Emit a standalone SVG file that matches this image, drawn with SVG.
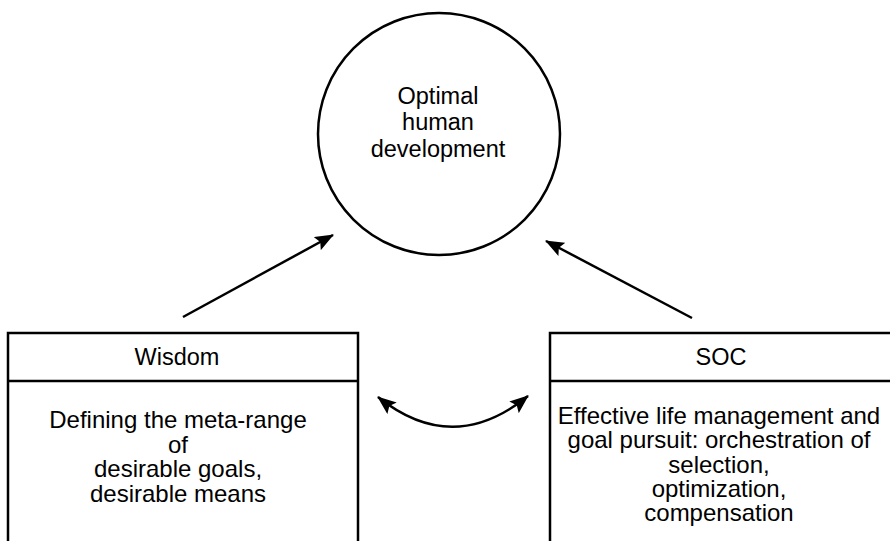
<svg xmlns="http://www.w3.org/2000/svg" width="890" height="541" viewBox="0 0 890 541">
<style>
text{font-family:"Liberation Sans",Arial,Helvetica,sans-serif;font-size:23.5px;fill:#000;text-anchor:middle}
.body{font-size:24px}
.shape{fill:#fff;stroke:#000;stroke-width:2.5}
.conn{fill:none;stroke:#000;stroke-width:2.5}
</style>
<defs>
<marker id="ah2" viewBox="0 0 19 15" refX="18" refY="7.5" markerWidth="19" markerHeight="15" markerUnits="userSpaceOnUse" orient="auto-start-reverse">
<path d="M0,0 L19,7.5 L0,15 L3.5,7.5 Z" fill="#000"/>
</marker>
</defs>
<rect width="890" height="541" fill="#fff"/>
<g id="optimal">
<circle class="shape" cx="439" cy="134" r="121"/>
<text x="438" y="104">Optimal</text>
<text x="438" y="130">human</text>
<text x="438" y="157">development</text>
</g>
<g id="wisdom">
<rect class="shape" x="8" y="333" width="350" height="220"/>
<line class="conn" x1="8" y1="381" x2="358" y2="381"/>
<text x="177" y="365">Wisdom</text>
<text class="body" x="178" y="428">Defining the meta-range</text>
<text class="body" x="178" y="453">of</text>
<text class="body" x="178" y="477">desirable goals,</text>
<text class="body" x="178" y="502">desirable means</text>
</g>
<g id="soc">
<rect class="shape" x="550" y="333" width="360" height="220"/>
<line class="conn" x1="550" y1="381" x2="890" y2="381"/>
<text x="721" y="365">SOC</text>
<text class="body" x="719" y="424">Effective life management and</text>
<text class="body" x="719" y="448">goal pursuit: orchestration of</text>
<text class="body" x="719" y="473">selection,</text>
<text class="body" x="719" y="497">optimization,</text>
<text class="body" x="719" y="521">compensation</text>
</g>
<g id="connectors">
<line class="conn" x1="183" y1="317" x2="333" y2="235" marker-end="url(#ah2)"/>
<line class="conn" x1="692" y1="318" x2="546" y2="241" marker-end="url(#ah2)"/>
<path class="conn" d="M378,397 Q453,457 528,396" marker-start="url(#ah2)" marker-end="url(#ah2)"/>
</g>
</svg>
